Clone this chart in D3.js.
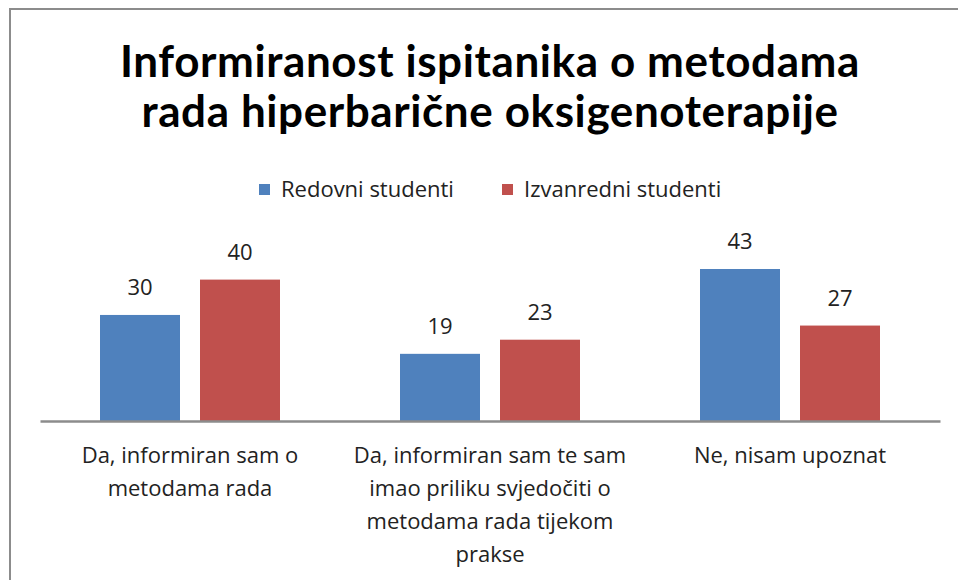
<!DOCTYPE html>
<html><head><meta charset="utf-8">
<script src="https://cdn.jsdelivr.net/npm/d3@7"></script>
<style>body{margin:0;background:#fff}svg{display:block}</style>
</head><body>
<svg id="c" width="958" height="580"></svg>
<script>
const titleLines = ["Informiranost ispitanika o metodama", "rada hiperbarične oksigenoterapije"];
const categories = ["Da, informiran sam o\nmetodama rada", "Da, informiran sam te sam\nimao priliku svjedočiti o\nmetodama rada tijekom\nprakse", "Ne, nisam upoznat"];
const seriesNames = ["Redovni studenti", "Izvanredni studenti"];
const redovni = [30, 19, 43];
const izvanredni = [40, 23, 27];
const colors = ["#4F81BD", "#C0504D"];

const svg = d3.select("#c");
const tfont = "Lato, 'Open Sans', sans-serif";
const font = "'Open Sans', Lato, sans-serif";
const fs = 22;
// border
svg.append("rect").attr("x", 10).attr("y", 9).attr("width", 960).attr("height", 600)
  .attr("fill", "#fff").attr("stroke", "#8c8c8c").attr("stroke-width", 2);

svg.append("g").selectAll("text").data(titleLines).join("text")
  .attr("x", 490).attr("y", (d, i) => 77 + i * 50)
  .attr("text-anchor", "middle").attr("font-family", tfont).attr("font-weight", "bold")
  .attr("font-size", 44).attr("letter-spacing", 0.6).attr("fill", "#000").text(d => d);

const x0 = d3.scaleBand().domain(categories).range([40, 940]);
const x1 = d3.scaleBand().domain(seriesNames).range([60, 240]).paddingInner(0.2);
const y = d3.scaleLinear().domain([0, 43]).range([421, 269]);

const data = categories.map((c, i) => ({cat: c, vals: [redovni[i], izvanredni[i]]}));

const g = svg.append("g");
const groups = g.selectAll("g").data(data).join("g")
  .attr("transform", d => `translate(${x0(d.cat)},0)`);
groups.selectAll("rect").data(d => d.vals.map((v, j) => ({v, s: seriesNames[j], j}))).join("rect")
  .attr("x", d => x1(d.s)).attr("width", x1.bandwidth())
  .attr("y", d => y(d.v)).attr("height", d => y(0) - y(d.v))
  .attr("fill", d => colors[d.j]);
groups.selectAll("text.v").data(d => d.vals.map((v, j) => ({v, s: seriesNames[j], j}))).join("text")
  .attr("class", "v")
  .attr("x", d => x1(d.s) + x1.bandwidth() / 2).attr("y", d => y(d.v) - 20)
  .attr("text-anchor", "middle").attr("font-family", font).attr("font-size", fs)
  .attr("fill", "#222").text(d => d.v);

// axis
const ax = svg.append("g").attr("transform", `translate(0,${y(0)})`)
  .call(d3.axisBottom(x0).tickSize(0).tickFormat(""));
ax.select(".domain").attr("stroke", "#8c8c8c").attr("stroke-width", 2.5);

const lab = svg.append("g").selectAll("text").data(categories).join("text")
  .attr("text-anchor", "middle").attr("font-family", font).attr("font-size", fs).attr("fill", "#222");
lab.each(function(d) {
  const t = d3.select(this);
  d.split("\n").forEach((line, i) => {
    t.append("tspan").attr("x", x0(d) + x0.bandwidth() / 2).attr("y", 463 + i * 33).text(line);
  });
});

// legend
const leg = svg.append("g");
const legX = [259, 502];
seriesNames.forEach((s, i) => {
  leg.append("rect").attr("x", legX[i]).attr("y", 184).attr("width", 11).attr("height", 11).attr("fill", colors[i]);
  leg.append("text").attr("x", legX[i] + 22).attr("y", 197).attr("font-family", font)
    .attr("font-size", fs).attr("fill", "#222").text(s);
});
</script>
</body></html>
